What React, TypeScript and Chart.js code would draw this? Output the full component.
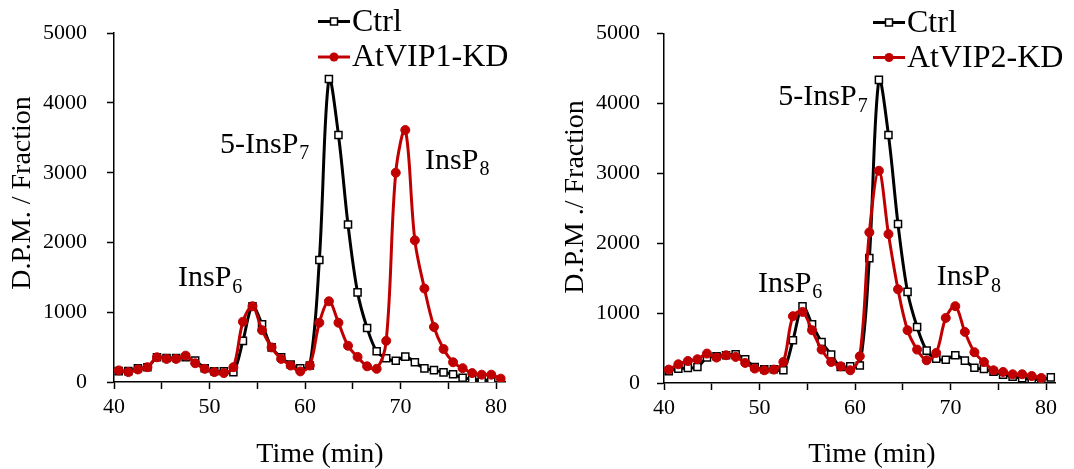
import React, { useEffect, useRef } from "react";
import { Chart, registerables } from "chart.js";

Chart.register(...registerables);

const FONT = "'Liberation Serif', 'Times New Roman', serif";

// Retention times (min) of collected fractions
const times = [
  40.5, 41.5, 42.5, 43.5, 44.5, 45.5, 46.5, 47.5, 48.5, 49.5,
  50.5, 51.5, 52.5, 53.5, 54.5, 55.5, 56.5, 57.5, 58.5, 59.5,
  60.5, 61.5, 62.5, 63.5, 64.5, 65.5, 66.5, 67.5, 68.5, 69.5,
  70.5, 71.5, 72.5, 73.5, 74.5, 75.5, 76.5, 77.5, 78.5, 79.5,
  80.5,
];

// Left panel: Ctrl vs AtVIP1-KD (D.P.M. per fraction)
const leftCtrl = [
  156, 156, 198, 212, 354, 345, 345, 354, 307, 198,
  153, 153, 142, 590, 1086, 827, 496, 354, 250, 198,
  236, 1748, 4344, 3541, 2258, 1285, 775, 440, 340, 305,
  364, 283, 195, 170, 138, 110, 60, 40, 24, 30,
];
const leftKD = [
  166, 142, 180, 212, 354, 331, 331, 378, 269, 189,
  142, 128, 212, 864, 1086, 742, 496, 331, 236, 152,
  236, 850, 1157, 850, 520, 360, 225, 189, 590, 3000,
  3612, 2031, 1340, 789, 473, 283, 198, 128, 105, 105,
  48,
];

// Right panel: Ctrl vs AtVIP2-KD
const rightCtrl = [
  170, 206, 215, 229, 364, 382, 397, 411, 340, 229,
  196, 196, 182, 612, 1099, 841, 587, 407, 229, 239,
  250, 1786, 4337, 3549, 2274, 1304, 800, 463, 349, 332,
  397, 320, 218, 200, 160, 120, 90, 70, 55, 50,
  80,
];
const rightKD = [
  192, 268, 315, 340, 421, 364, 397, 373, 287, 206,
  182, 192, 301, 956, 1017, 755, 478, 301, 239, 182,
  382, 2155, 3037, 2130, 1340, 755, 478, 325, 430, 931,
  1099, 731, 440, 300, 182, 158, 125, 125, 100, 72,
];

const seriesNames = ["Ctrl", "AtVIP1-KD", "AtVIP2-KD"];
const yTitles = ["D.P.M. / Fraction", "D.P.M ./ Fraction"];
const xTitle = "Time (min)";

type Ann = { main: string; sub: string; x: number; y: number };

const leftAnnotations: Ann[] = [
  { main: "InsP", sub: "6", x: 46.7, y: 1374 },
  { main: "5-InsP", sub: "7", x: 51.1, y: 3286 },
  { main: "InsP", sub: "8", x: 72.57, y: 3059 },
];
const rightAnnotations: Ann[] = [
  { main: "InsP", sub: "6", x: 49.84, y: 1306 },
  { main: "5-InsP", sub: "7", x: 51.97, y: 3977 },
  { main: "InsP", sub: "8", x: 68.55, y: 1402 },
];

const BLACK = "#000000";
const RED = "#C00000";

type Panel = {
  ctrl: number[];
  kd: number[];
  kdName: string;
  yTitle: string;
  annotations: Ann[];
  width: number;
  yAxisWidth: number;
  padTop: number;
  padRight: number;
  xAxisHeight: number;
  yTickPad: number;
  yTitlePos: [number, number];
  xTitlePos: [number, number];
  legendX: number;
  legendY: [number, number];
};

const panels: Panel[] = [
  {
    ctrl: leftCtrl,
    kd: leftKD,
    kdName: seriesNames[1],
    yTitle: yTitles[0],
    annotations: leftAnnotations,
    width: 540,
    yAxisWidth: 114,
    padTop: 28.5,
    padRight: 34.4,
    xAxisHeight: 87,
    yTickPad: 20,
    yTitlePos: [23, 193],
    xTitlePos: [320, 455],
    legendX: 318,
    legendY: [21.5, 57],
  },
  {
    ctrl: rightCtrl,
    kd: rightKD,
    kdName: seriesNames[2],
    yTitle: yTitles[1],
    annotations: rightAnnotations,
    width: 534,
    yAxisWidth: 124,
    padTop: 33.5,
    padRight: 18.4,
    xAxisHeight: 86,
    yTickPad: 17,
    yTitlePos: [36, 197],
    xTitlePos: [332, 455],
    legendX: 333,
    legendY: [22.5, 57.5],
  },
];

const textPlugin = {
  id: "panelText",
  afterDraw(chart: any, _args: any, opts: any) {
    const p: Panel = opts.panel;
    const ctx = chart.ctx as CanvasRenderingContext2D;
    const xs = chart.scales.x;
    const ys = chart.scales.y;
    ctx.save();
    ctx.fillStyle = "#000";

    // peak annotations
    for (const a of p.annotations) {
      const px = xs.getPixelForValue(a.x);
      const py = ys.getPixelForValue(a.y);
      ctx.font = `30px ${FONT}`;
      ctx.textAlign = "left";
      ctx.textBaseline = "alphabetic";
      ctx.fillText(a.main, px, py);
      const w = ctx.measureText(a.main).width;
      ctx.font = `20px ${FONT}`;
      ctx.fillText(a.sub, px + w + 1, py + 6.5);
    }

    // axis titles
    ctx.font = `28px ${FONT}`;
    ctx.textAlign = "center";
    ctx.textBaseline = "middle";
    ctx.fillText(xTitle, p.xTitlePos[0], p.xTitlePos[1]);
    ctx.save();
    ctx.translate(p.yTitlePos[0], p.yTitlePos[1]);
    ctx.rotate(-Math.PI / 2);
    ctx.fillText(p.yTitle, 0, 0);
    ctx.restore();

    // legend
    const items = [
      { name: seriesNames[0], color: BLACK, marker: "rect", y: p.legendY[0] },
      { name: p.kdName, color: RED, marker: "circle", y: p.legendY[1] },
    ];
    for (const it of items) {
      const x0 = p.legendX;
      const x1 = x0 + 32;
      ctx.strokeStyle = it.color;
      ctx.lineWidth = 3;
      ctx.beginPath();
      ctx.moveTo(x0, it.y);
      ctx.lineTo(x1, it.y);
      ctx.stroke();
      const cx = (x0 + x1) / 2;
      if (it.marker === "rect") {
        ctx.fillStyle = "#fff";
        ctx.fillRect(cx - 3.5, it.y - 3.5, 7, 7);
        ctx.lineWidth = 1.5;
        ctx.strokeRect(cx - 3.5, it.y - 3.5, 7, 7);
      } else {
        ctx.fillStyle = it.color;
        ctx.beginPath();
        ctx.arc(cx, it.y, 4.5, 0, Math.PI * 2);
        ctx.fill();
      }
      ctx.fillStyle = "#000";
      ctx.font = `32px ${FONT}`;
      ctx.textAlign = "left";
      ctx.textBaseline = "middle";
      ctx.fillText(it.name, x1 + 2, it.y + 1);
    }
    ctx.restore();
  },
};

function PanelChart({ panel, left }: { panel: Panel; left: number }) {
  const ref = useRef<HTMLCanvasElement | null>(null);
  useEffect(() => {
    if (!ref.current) return;
    const ctrlPts = panel.ctrl.map((v, i) => ({ x: times[i], y: v }));
    const kdPts = panel.kd.map((v, i) => ({ x: times[i], y: v }));
    const chart = new Chart(ref.current, {
      type: "line",
      data: {
        datasets: [
          {
            label: panel.kdName,
            data: kdPts,
            borderColor: RED,
            backgroundColor: RED,
            borderWidth: 3,
            pointStyle: "circle",
            pointRadius: 4.5,
            pointBorderWidth: 1,
            pointBackgroundColor: RED,
            pointBorderColor: RED,
            tension: 0.35,
            order: 0,
          },
          {
            label: seriesNames[0],
            data: ctrlPts,
            borderColor: BLACK,
            backgroundColor: "#fff",
            borderWidth: 3,
            pointStyle: "rect",
            pointRadius: 5,
            pointBorderWidth: 1.5,
            pointBackgroundColor: "#fff",
            pointBorderColor: BLACK,
            tension: 0.35,
            order: 1,
          },
        ],
      },
      options: {
        responsive: false,
        animation: false,
        events: [],
        layout: {
          padding: { left: 0, top: panel.padTop, right: panel.padRight, bottom: 0 },
        },
        plugins: {
          legend: { display: false },
          tooltip: { enabled: false },
          panelText: { panel },
        } as any,
        scales: {
          x: {
            type: "linear",
            min: 40,
            max: 81,
            afterFit: (s: any) => {
              s.height = panel.xAxisHeight;
            },
            afterBuildTicks: (s: any) => {
              s.ticks = s.ticks.filter((t: any) => t.value <= 80);
            },
            ticks: {
              stepSize: 5,
              includeBounds: false,
              autoSkip: false,
              maxRotation: 0,
              padding: 5,
              color: "#000",
              font: { family: FONT, size: 22 },
              callback: (v: any) => (Number(v) % 10 === 0 ? String(v) : ""),
            },
            grid: {
              drawOnChartArea: false,
              drawTicks: true,
              tickLength: 7,
              tickWidth: 1.5,
              tickColor: "#000",
              color: "#000",
            },
            border: { display: true, color: "#000", width: 1.5 },
          },
          y: {
            type: "linear",
            min: 0,
            max: 5000,
            afterFit: (s: any) => {
              s.width = panel.yAxisWidth;
            },
            ticks: {
              stepSize: 1000,
              padding: panel.yTickPad,
              color: "#000",
              font: { family: FONT, size: 22 },
              callback: (v: any) => String(v),
            },
            grid: {
              drawOnChartArea: false,
              drawTicks: true,
              tickLength: 7,
              tickWidth: 1.5,
              tickColor: "#000",
              color: "#000",
            },
            border: { display: true, color: "#000", width: 1.5 },
          },
        },
      } as any,
      plugins: [textPlugin as any],
    });
    return () => chart.destroy();
  }, [panel]);
  return (
    <div style={{ position: "absolute", left, top: 0, width: panel.width, height: 469 }}>
      <canvas ref={ref} width={panel.width} height={469} style={{ display: "block" }} />
    </div>
  );
}

export default function App() {
  return (
    <div
      style={{
        position: "fixed",
        left: 0,
        top: 0,
        width: 1074,
        height: 469,
        background: "#fff",
        overflow: "hidden",
      }}
    >
      <PanelChart panel={panels[0]} left={0} />
      <PanelChart panel={panels[1]} left={540} />
    </div>
  );
}
